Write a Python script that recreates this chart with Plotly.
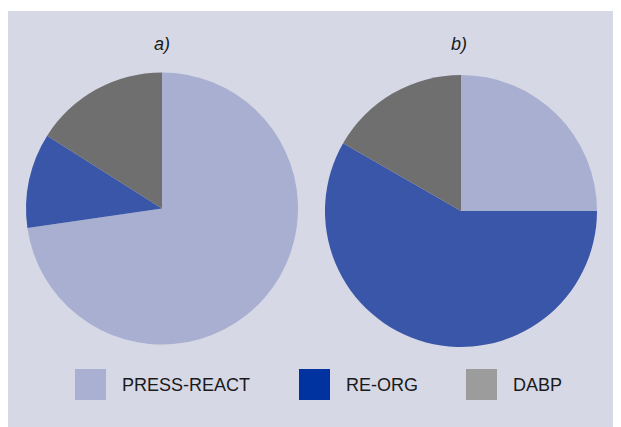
import plotly.graph_objects as go

OFF = 8
W, H = 621 - OFF, 427 - OFF
categories = ["PRESS-REACT", "RE-ORG", "DABP"]
values_a = [72.7, 11.3, 16.0]
values_b = [25.0, 58.3, 16.7]
titles = ["a)", "b)"]
pie_colors = ["#a9afd0", "#3a56a8", "#6f6f6f"]
legend_colors = ["#a9b0d1", "#0033a0", "#9c9c9c"]
bg = "#d6d8e5"

def px(x):
    return (x - OFF) / W

def py(y):
    return 1 - (y - OFF) / H

fig = go.Figure()
fig.add_trace(go.Pie(
    labels=categories, values=values_a, sort=False, direction="clockwise", rotation=0,
    marker=dict(colors=pie_colors, line=dict(width=0)), textinfo="none",
    domain=dict(x=[px(26), px(298)], y=[py(345), py(72)]), showlegend=False, hoverinfo="label+percent"))
fig.add_trace(go.Pie(
    labels=categories, values=values_b, sort=False, direction="clockwise", rotation=0,
    marker=dict(colors=pie_colors, line=dict(width=0)), textinfo="none",
    domain=dict(x=[px(325), px(597)], y=[py(347), py(75)]), showlegend=False, hoverinfo="label+percent"))

shapes = [dict(type="rect", xref="paper", yref="paper", x0=px(6), x1=px(618), y0=py(427), y1=py(11),
               fillcolor=bg, line=dict(width=0), layer="below")]
annotations = []
for t, cx in zip(titles, [162, 459]):
    annotations.append(dict(text=f"<i>{t}</i>", x=px(cx), y=py(44), xref="paper", yref="paper",
                            showarrow=False, xanchor="center", yanchor="middle",
                            font=dict(family="Liberation Sans, Arial", size=18, color="#1a1a1a")))
box_x = [75, 299, 466]
for cat, col, bx in zip(categories, legend_colors, box_x):
    shapes.append(dict(type="rect", xref="paper", yref="paper", x0=px(bx), x1=px(bx + 31),
                       y0=py(400), y1=py(369), fillcolor=col, line=dict(width=0)))
    annotations.append(dict(text=cat, x=px(bx + 45), y=py(385), xref="paper", yref="paper",
                            showarrow=False, xanchor="left", yanchor="middle",
                            font=dict(family="Liberation Sans, Arial", size=18, color="#1a1a1a")))

fig.update_layout(width=W, height=H, margin=dict(l=0, r=0, t=0, b=0),
                  paper_bgcolor="white", plot_bgcolor="white",
                  shapes=shapes, annotations=annotations)
fig.write_html("out.html")
